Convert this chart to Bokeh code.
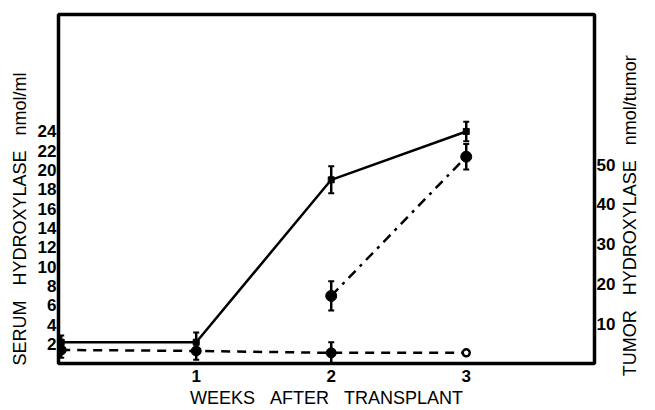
import math
from bokeh.plotting import figure
from bokeh.models import Range1d, LinearAxis, FixedTicker, ColumnDataSource, Whisker, TeeHead
from bokeh.embed import file_html
from bokeh.resources import INLINE

# ---- data ----
weeks = [0, 1, 2, 3]

# serum hydroxylase, tumor-bearing (solid line), nmol/ml
serum_tumor = [2.2, 2.2, 19.0, 24.0]
serum_tumor_err = [0.7, 1.0, 1.4, 1.0]

# serum hydroxylase, control (dashed line), nmol/ml
serum_ctrl_weeks = [0, 1, 2, 3]
serum_ctrl = [1.4, 1.3, 1.1, 1.1]
serum_ctrl_err = [0.8, 0.9, 1.1, 0.0]

# tumor hydroxylase (dash-dot line), nmol/tumor
tumor_weeks = [2, 3]
tumor_hyd = [17.0, 52.0]
tumor_hyd_err = [3.7, 3.2]

x_ticks = [1, 2, 3]
left_ticks = [2, 4, 6, 8, 10, 12, 14, 16, 18, 20, 22, 24]
right_ticks = [10, 20, 30, 40, 50]

FONT = "Liberation Sans"
SP = "\u00a0\u00a0\u00a0"
RIGHT_TITLE = "TUMOR" + SP + "HYDROXYLASE" + SP + "nmol/tumor"
RIGHT_TITLE_AT = 10.0   # anchor of the right-hand title (serum scale)

X0, X1 = -0.02, 3.95
p = figure(width=653, height=410, output_backend="svg", toolbar_location=None,
           x_range=Range1d(X0, X1), y_range=Range1d(0, 36.1),
           min_border_left=58, min_border_right=49, min_border_top=14, min_border_bottom=40)
p.extra_y_ranges = {"tumor": Range1d(0, 87.75)}

p.grid.visible = False
p.outline_line_color = "black"
p.outline_line_width = 3.5
p.background_fill_color = "white"
p.border_fill_color = "white"

def style_axis(ax, ticks):
    ax.ticker = FixedTicker(ticks=ticks)
    ax.axis_line_color = None
    ax.major_tick_line_color = None
    ax.minor_tick_line_color = None
    ax.major_tick_out = 0
    ax.major_tick_in = 0
    ax.minor_tick_out = 0
    ax.minor_tick_in = 0
    ax.major_label_text_font = FONT
    ax.major_label_text_font_size = "17px"
    ax.major_label_text_font_style = "bold"
    ax.major_label_text_color = "black"
    ax.major_label_standoff = 2
    ax.axis_label_text_font = FONT
    ax.axis_label_text_font_size = "18px"
    ax.axis_label_text_font_style = "normal"
    ax.axis_label_text_color = "black"

xa = p.xaxis[0]
style_axis(xa, x_ticks)
xa.axis_label = "WEEKS" + SP + "AFTER" + SP + "TRANSPLANT"
xa.major_label_standoff = 6
xa.axis_label_standoff = 3

ya = p.yaxis[0]
style_axis(ya, left_ticks)
ya.axis_label = "SERUM" + SP + "HYDROXYLASE" + SP + "nmol/ml" + "\u00a0" * 12
ya.axis_label_standoff = 5

ra = LinearAxis(y_range_name="tumor")
style_axis(ra, right_ticks)
ra.axis_label_standoff = 0
p.add_layout(ra, "right")

# right-hand title, reading bottom-to-top like the reference
rt = LinearAxis()
rt.ticker = FixedTicker(ticks=[RIGHT_TITLE_AT])
rt.major_label_overrides = {RIGHT_TITLE_AT: RIGHT_TITLE}
rt.major_label_orientation = math.pi / 2
rt.axis_line_color = None
rt.major_tick_line_color = None
rt.minor_tick_line_color = None
rt.major_tick_out = 0
rt.major_tick_in = 0
rt.major_label_standoff = 12
rt.axis_label_standoff = 0
rt.major_label_text_font = FONT
rt.major_label_text_font_size = "18px"
rt.major_label_text_color = "black"
p.add_layout(rt, "right")

# ---- solid: serum, tumor-bearing ----
s1 = ColumnDataSource(dict(x=weeks, y=serum_tumor,
                           lo=[v - e for v, e in zip(serum_tumor, serum_tumor_err)],
                           hi=[v + e for v, e in zip(serum_tumor, serum_tumor_err)]))
p.line("x", "y", source=s1, line_color="black", line_width=2.5)
p.scatter("x", "y", source=s1, marker="square", size=6, color="black")
p.add_layout(Whisker(source=s1, base="x", lower="lo", upper="hi", line_color="black", line_width=2.5,
                     upper_head=TeeHead(size=6, line_color="black", line_width=2),
                     lower_head=TeeHead(size=6, line_color="black", line_width=2)))

# ---- dashed: serum, control ----
s2 = ColumnDataSource(dict(x=serum_ctrl_weeks, y=serum_ctrl))
p.line("x", "y", source=s2, line_color="black", line_width=2.5, line_dash="9 7")
s2f = ColumnDataSource(dict(x=serum_ctrl_weeks[:3], y=serum_ctrl[:3],
                            lo=[v - e for v, e in zip(serum_ctrl[:3], serum_ctrl_err[:3])],
                            hi=[v + e for v, e in zip(serum_ctrl[:3], serum_ctrl_err[:3])]))
p.add_layout(Whisker(source=s2f, base="x", lower="lo", upper="hi", line_color="black", line_width=2.5,
                     upper_head=TeeHead(size=6, line_color="black", line_width=2),
                     lower_head=TeeHead(size=6, line_color="black", line_width=2)))
p.scatter("x", "y", source=s2f, marker="circle", size=10, color="black")
p.scatter([serum_ctrl_weeks[3]], [serum_ctrl[3]], marker="circle", size=7,
          fill_color="white", line_color="black", line_width=2.5)

# ---- dash-dot: tumor hydroxylase (right axis) ----
s3 = ColumnDataSource(dict(x=tumor_weeks, y=tumor_hyd,
                           lo=[v - e for v, e in zip(tumor_hyd, tumor_hyd_err)],
                           hi=[v + e for v, e in zip(tumor_hyd, tumor_hyd_err)]))
p.line("x", "y", source=s3, y_range_name="tumor", line_color="black", line_width=2.5,
       line_dash="10 6 3 6")
p.add_layout(Whisker(source=s3, base="x", lower="lo", upper="hi", y_range_name="tumor",
                     line_color="black", line_width=2.5,
                     upper_head=TeeHead(size=6, line_color="black", line_width=2),
                     lower_head=TeeHead(size=6, line_color="black", line_width=2)))
p.scatter("x", "y", source=s3, y_range_name="tumor", marker="circle", size=11, color="black")

open("out.html", "w").write(file_html(p, INLINE))
